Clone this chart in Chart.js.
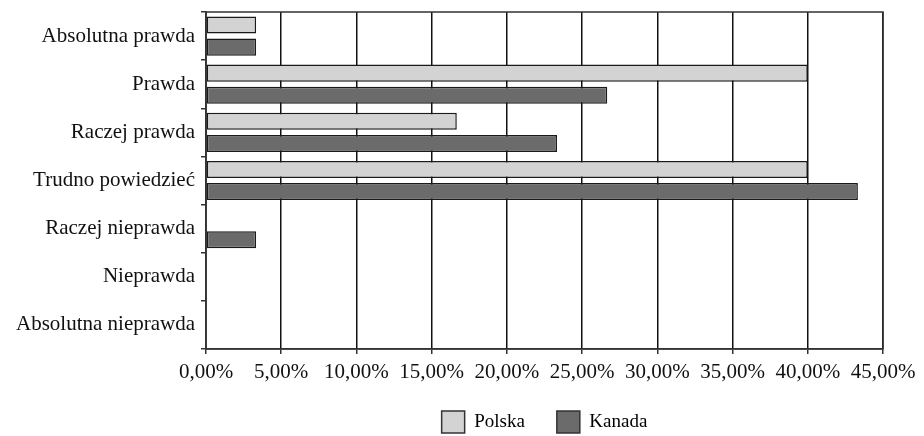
<!DOCTYPE html>
<html lang="pl">
<head>
  <meta charset="UTF-8" />
  <title>Polska i Kanada</title>
  <script src="https://cdn.jsdelivr.net/npm/chart.js"></script>
  <style>
    html, body { margin: 0; padding: 0; background: #fff; }
    #wrap { width: 924px; height: 436px; }
  </style>
</head>
<body>
  <div id="wrap"><canvas id="wykres"></canvas></div>

  <script>
    const kategorie = [
      'Absolutna prawda',
      'Prawda',
      'Raczej prawda',
      'Trudno powiedzieć',
      'Raczej nieprawda',
      'Nieprawda',
      'Absolutna nieprawda'
    ];
    const polska = [3.33, 40.0, 16.67, 40.0, 0, 0, 0];
    const kanada = [3.33, 26.67, 23.33, 43.33, 3.33, 0, 0];
    const osX = { min: 0, max: 45, krok: 5 };

    const rodzina = "'Liberation Serif', 'DejaVu Serif', serif";
    const czcionkaOsi = { family: rodzina, size: 21 };
    const czcionkaLegendy = { family: rodzina, size: 19 };

    // ramka wokół obszaru wykresu (góra i prawa strona)
    const ramka = {
      id: 'ramka',
      afterDatasetsDraw(chart) {
        const { ctx, chartArea: a } = chart;
        ctx.save();
        ctx.strokeStyle = '#333';
        ctx.lineWidth = 1.5;
        ctx.strokeRect(a.left, a.top, a.right - a.left, a.bottom - a.top);
        ctx.restore();
      }
    };

    // legenda trochę bliżej osi (dół zostaje na miejscu, żeby nie obcinać ramek)
    const legendaWyzej = {
      id: 'legendaWyzej',
      afterLayout(chart) {
        if (chart.legend) {
          chart.legend.top -= 6;
        }
      }
    };

    new Chart(document.getElementById('wykres'), {
      type: 'bar',
      data: {
        labels: kategorie,
        datasets: [
          {
            label: 'Polska',
            data: polska,
            backgroundColor: '#d3d3d3',
            borderColor: '#1a1a1a',
            borderWidth: 1.5,
            borderSkipped: false,
            categoryPercentage: 0.92,
            barPercentage: 0.77
          },
          {
            label: 'Kanada',
            data: kanada,
            backgroundColor: '#6b6b6b',
            borderColor: '#1a1a1a',
            borderWidth: 1.5,
            borderSkipped: false,
            categoryPercentage: 0.92,
            barPercentage: 0.77
          }
        ]
      },
      options: {
        indexAxis: 'y',
        responsive: true,
        maintainAspectRatio: false,
        animation: false,
        layout: { padding: { top: 12, right: 41, bottom: 0, left: 0 } },
        scales: {
          x: {
            min: osX.min,
            max: osX.max,
            afterFit(scale) { scale.height = 36; },
            ticks: {
              stepSize: osX.krok,
              color: '#111',
              font: czcionkaOsi,
              padding: 6,
              maxRotation: 0,
              callback: v => v.toFixed(2).replace('.', ',') + '%'
            },
            grid: { color: '#111', lineWidth: 1.5, tickLength: 5, tickColor: '#333' },
            border: { color: '#333', width: 1.5 }
          },
          y: {
            afterFit(scale) {
              scale.width = 206;
              scale.paddingTop = 0;
              scale.paddingBottom = 0;
            },
            ticks: { color: '#111', font: czcionkaOsi, padding: 6 },
            grid: { drawOnChartArea: false, offset: true, tickLength: 5, tickColor: '#333', lineWidth: 1.5 },
            border: { color: '#333', width: 1.5 }
          }
        },
        plugins: {
          legend: {
            position: 'bottom',
            fullSize: false,
            maxHeight: 51,
            labels: {
              color: '#111',
              font: czcionkaLegendy,
              boxWidth: 23,
              boxHeight: 22,
              padding: 32,
              generateLabels(chart) {
                return chart.data.datasets.map((ds, i) => ({
                  text: ds.label,
                  fillStyle: ds.backgroundColor,
                  strokeStyle: '#333',
                  lineWidth: 1.5,
                  datasetIndex: i
                }));
              }
            }
          },
          tooltip: { enabled: false }
        }
      },
      plugins: [ramka, legendaWyzej]
    });
  </script>
</body>
</html>
